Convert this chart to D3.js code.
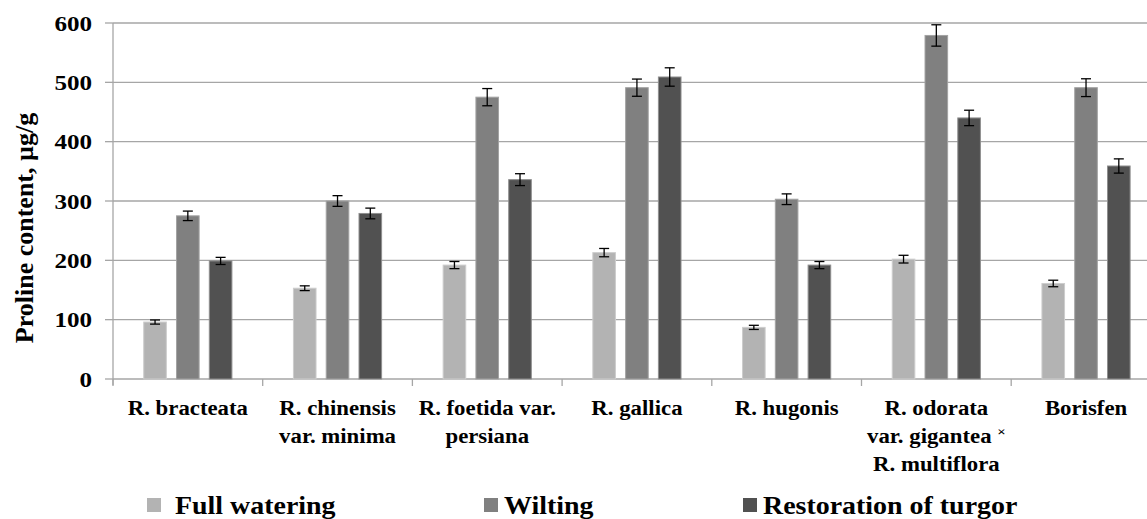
<!DOCTYPE html>
<html>
<head>
<meta charset="utf-8">
<script src="https://cdn.jsdelivr.net/npm/d3@7"></script>
<style>
    body { margin: 0; background: #fff; }
    svg { display: block; }
    text { font-family: "Liberation Serif", "Times New Roman", serif; font-weight: bold; fill: #000; }
</style>
</head>
<body>
<div id="chart"></div>
<script>
"use strict";

// category labels, one entry per line
let categories = [
    ["R. bracteata"],
    ["R. chinensis", "var. minima"],
    ["R. foetida var.", "persiana"],
    ["R. gallica"],
    ["R. hugonis"],
    ["R. odorata", "var. gigantea ×", "R. multiflora"],
    ["Borisfen"]
];

let seriesNames = ["Full watering", "Wilting", "Restoration of turgor"];

let fullWatering = [96, 153, 192, 213, 87, 202, 161];
let fullWateringErr = [3.5, 4, 6, 7, 3.5, 6.5, 5.5];

let wilting = [275, 300, 475, 491, 303, 579, 491];
let wiltingErr = [8, 9, 14.5, 14.5, 9, 18, 15];

let restoration = [199, 279, 336, 509, 192, 440, 359];
let restorationErr = [6, 9, 10, 15.5, 6, 13, 12];

let yTicks = [0, 100, 200, 300, 400, 500, 600];

let self = {
    width: 1147,
    height: 519,
    left: 113,
    top: 23,
    bottom: 379,
    bandWidth: 149.7,
    stretch: 1.14,
    fills: ["#b3b3b3", "#808080", "#515151"],
    strokes: ["#cdcdcd", "#a3a3a3", "#8f8f8f"],
    legendX: [147, 484, 743],
    legendGap: [14, 6, 6]
};

let svg = d3.select("#chart").append("svg")
    .attr("width", self.width)
    .attr("height", self.height);

let names = categories.map(d => d.join(" "));
let values = [fullWatering, wilting, restoration];
let errors = [fullWateringErr, wiltingErr, restorationErr];

let x = d3.scaleBand()
    .domain(names)
    .range([self.left, self.left + self.bandWidth * names.length])
    .padding(0);

let y = d3.scaleLinear()
    .domain([0, 600])
    .range([self.bottom, self.top]);

// bar placement inside a band (Excel like gap width)
let barOffset = d3.scaleLinear()
    .domain([0, 1])
    .range([0.202 * x.bandwidth(), 0.421 * x.bandwidth()]);
let barWidth = 0.151 * x.bandwidth();

// horizontal gridlines
svg.append("g")
    .selectAll("line")
    .data(yTicks.filter(d => d > 0))
    .enter().append("line")
    .attr("x1", self.left)
    .attr("x2", self.width)
    .attr("y1", d => y(d))
    .attr("y2", d => y(d))
    .style("stroke", "#a6a6a6")
    .style("stroke-width", 1.3);

// y axis line and ticks
let yAxis = svg.append("g");
yAxis.append("line")
    .attr("x1", self.left).attr("x2", self.left)
    .attr("y1", y(600)).attr("y2", y(0) + 6)
    .style("stroke", "#a6a6a6")
    .style("stroke-width", 1.3);

yAxis.selectAll(".ytick")
    .data(yTicks)
    .enter().append("line")
    .attr("class", "ytick")
    .attr("x1", self.left - 8).attr("x2", self.left)
    .attr("y1", d => y(d)).attr("y2", d => y(d))
    .style("stroke", "#a6a6a6")
    .style("stroke-width", 1.3);

yAxis.selectAll("text")
    .data(yTicks)
    .enter().append("text")
    .attr("transform", d => `translate(92,${y(d) + 7.5}) scale(${self.stretch},1)`)
    .attr("text-anchor", "end")
    .style("font-size", "22px")
    .text(d => d);

// x axis line and ticks at band boundaries
let xAxis = svg.append("g");
xAxis.append("line")
    .attr("x1", self.left).attr("x2", self.width)
    .attr("y1", y(0)).attr("y2", y(0))
    .style("stroke", "#a6a6a6")
    .style("stroke-width", 1.3);

xAxis.selectAll(".xtick")
    .data(names)
    .enter().append("line")
    .attr("class", "xtick")
    .attr("x1", d => x(d)).attr("x2", d => x(d))
    .attr("y1", y(0)).attr("y2", y(0) + 7)
    .style("stroke", "#a6a6a6")
    .style("stroke-width", 1.3);

// bars
values.forEach(function(series, s) {
    svg.append("g")
        .selectAll("rect")
        .data(series)
        .enter().append("rect")
        .attr("x", (d, i) => x(names[i]) + barOffset(s) + 0.5)
        .attr("y", d => y(d))
        .attr("width", barWidth)
        .attr("height", d => y(0) - y(d))
        .style("fill", self.fills[s])
        .style("stroke", self.strokes[s])
        .style("stroke-width", 1);
});

// error bars
values.forEach(function(series, s) {
    let g = svg.append("g");
    series.forEach(function(v, i) {
        let cx = x(names[i]) + barOffset(s) + 0.5 + barWidth / 2;
        let e = errors[s][i];
        g.append("line")
            .attr("x1", cx).attr("x2", cx)
            .attr("y1", y(v + e)).attr("y2", y(v - e))
            .style("stroke", "#000").style("stroke-width", 1.3);
        [v + e, v - e].forEach(function(t) {
            g.append("line")
                .attr("x1", cx - 5).attr("x2", cx + 5)
                .attr("y1", y(t)).attr("y2", y(t))
                .style("stroke", "#000").style("stroke-width", 1.3);
        });
    });
});

// category labels
let labels = svg.append("g");
categories.forEach(function(lines, i) {
    let cx = x(names[i]) + x.bandwidth() / 2;
    lines.forEach(function(line, j) {
        let t = labels.append("text")
            .attr("transform", `translate(${cx},${415 + j * 28}) scale(${self.stretch},1)`)
            .attr("text-anchor", "middle")
            .style("font-size", "20px");
        if (line.endsWith("×")) {
            t.append("tspan").text(line.slice(0, -1));
            t.append("tspan")
                .attr("dy", -7)
                .style("font-size", "13px")
                .text("×");
        } else {
            t.text(line);
        }
    });
});

// y axis title
svg.append("text")
    .attr("transform", "translate(33,228) rotate(-90)")
    .attr("text-anchor", "middle")
    .style("font-size", "26px")
    .text("Proline content, µg/g");

// legend
let legend = svg.append("g");
seriesNames.forEach(function(name, s) {
    legend.append("rect")
        .attr("x", self.legendX[s])
        .attr("y", 498)
        .attr("width", 14)
        .attr("height", 14)
        .style("fill", self.fills[s]);
    legend.append("text")
        .attr("transform", `translate(${self.legendX[s] + 14 + self.legendGap[s]},514) scale(${self.stretch},1)`)
        .style("font-size", "24.5px")
        .text(name);
});
</script>
</body>
</html>
